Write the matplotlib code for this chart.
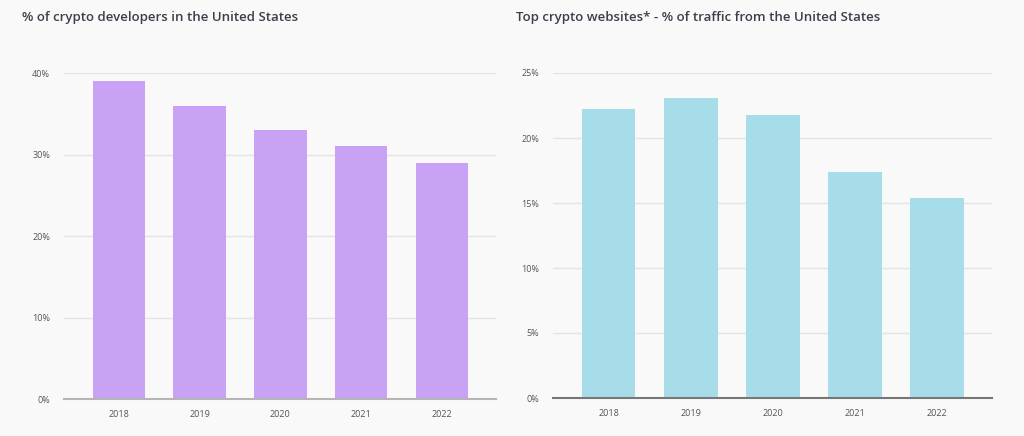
import matplotlib
matplotlib.use('Agg')
import matplotlib.pyplot as plt
from matplotlib.ticker import FuncFormatter

years = ['2018', '2019', '2020', '2021', '2022']
dev_share = [39, 36, 33, 31, 29]
traffic_share = [22.2, 23.1, 21.8, 17.4, 15.4]

bg = '#f9f9f9'
plt.rcParams['font.family'] = ['Open Sans', 'DejaVu Sans']

fig = plt.figure(figsize=(10.24, 4.36), dpi=100, facecolor=bg)

ax1 = fig.add_axes([64 / 1024, 37 / 436, 432 / 1024, 326 / 436])
ax2 = fig.add_axes([553 / 1024, 38 / 436, 439 / 1024, 325 / 436])


def style(ax, data, color, ticks, base_color):
    ax.set_facecolor(bg)
    x = range(len(years))
    ax.bar(x, data, width=0.65, color=color, zorder=2)
    ax.set_xticks(list(x))
    ax.set_xticklabels(years)
    ax.set_xlim(-0.68, 4.67)
    ax.set_yticks(ticks)
    ax.set_ylim(0, ticks[-1])
    ax.yaxis.set_major_formatter(FuncFormatter(lambda v, p: f'{v:.0f}%'))
    ax.grid(axis='y', color='#e4e4e4', linewidth=1, zorder=0)
    for s in ['top', 'right', 'left']:
        ax.spines[s].set_visible(False)
    ax.spines['bottom'].set_color(base_color)
    ax.spines['bottom'].set_linewidth(1.5)
    ax.spines['bottom'].set_zorder(3)
    ax.tick_params(length=0, labelsize=6.5, colors='#555555', pad=8)
    ax.tick_params(axis='y', pad=10)


style(ax1, dev_share, '#c9a1f5', [0, 10, 20, 30, 40], '#b5b5b5')
style(ax2, traffic_share, '#a6dde9', [0, 5, 10, 15, 20, 25], '#777777')

fig.text(22 / 1024, 1 - 18 / 436, '% of crypto developers in the United States',
         fontsize=9.5, fontweight='semibold', color='#3a3f4a', va='center')
fig.text(516 / 1024, 1 - 18 / 436, 'Top crypto websites* - % of traffic from the United States',
         fontsize=9.5, fontweight='semibold', color='#3a3f4a', va='center')

fig.savefig('out.png', dpi=100, facecolor=bg)
